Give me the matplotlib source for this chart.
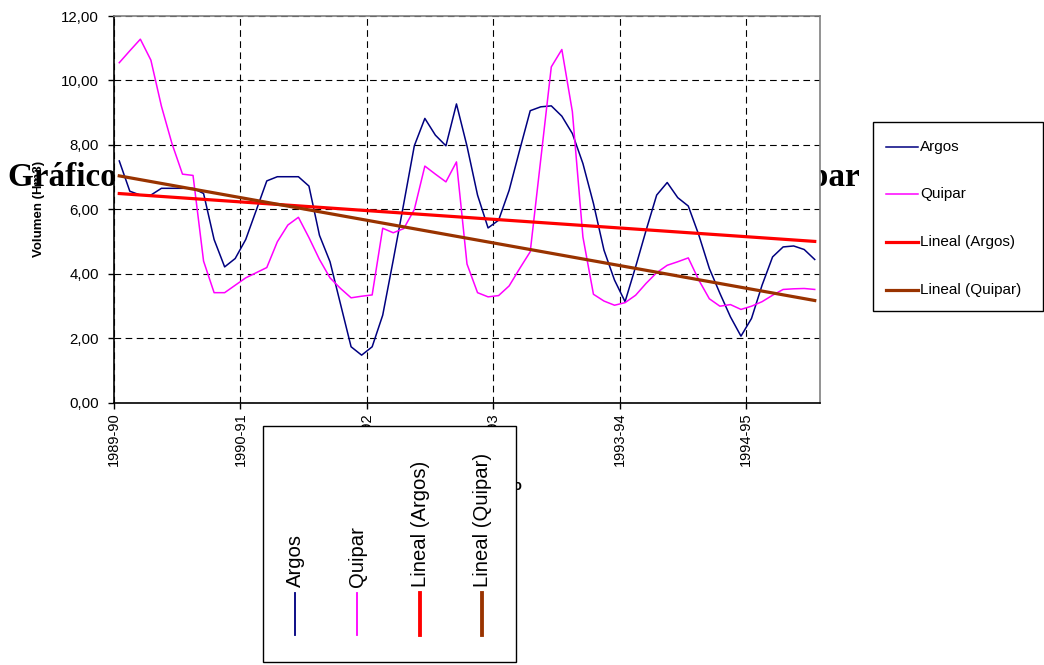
import numpy as np
import matplotlib
matplotlib.use("Agg")
import matplotlib.pyplot as plt
from matplotlib.lines import Line2D
from matplotlib.patches import Rectangle

# ---------------- data ----------------
year_labels = ["1989-90", "1990-91", "1991-92", "1992-93", "1993-94", "1994-95"]
argos = [7.50, 6.56, 6.44, 6.44, 6.65, 6.65, 6.65, 6.65, 6.49, 5.06, 4.21, 4.47,
         5.06, 5.97, 6.88, 7.01, 7.01, 7.01, 6.72, 5.19, 4.37, 3.05, 1.73, 1.47,
         1.73, 2.71, 4.42, 6.18, 7.97, 8.82, 8.30, 7.97, 9.27, 7.96, 6.44, 5.42,
         5.66, 6.59, 7.84, 9.06, 9.18, 9.21, 8.89, 8.35, 7.42, 6.18, 4.73, 3.80,
         3.13, 4.21, 5.35, 6.44, 6.83, 6.36, 6.10, 5.20, 4.16, 3.39, 2.66, 2.06,
         2.61, 3.64, 4.52, 4.83, 4.86, 4.75, 4.44]
quipar = [10.55, 10.92, 11.28, 10.63, 9.20, 8.04, 7.09, 7.05, 4.39, 3.41, 3.41, 3.64,
          3.87, 4.03, 4.19, 4.99, 5.51, 5.75, 5.12, 4.44, 3.87, 3.54, 3.25, 3.30,
          3.34, 5.41, 5.27, 5.40, 5.99, 7.34, 7.09, 6.85, 7.47, 4.30, 3.41, 3.28,
          3.32, 3.62, 4.16, 4.68, 7.55, 10.42, 10.96, 9.03, 5.14, 3.36, 3.15, 3.02,
          3.10, 3.33, 3.70, 4.03, 4.26, 4.37, 4.49, 3.80, 3.22, 2.99, 3.04, 2.89,
          2.99, 3.13, 3.33, 3.51, 3.53, 3.54, 3.51]
series_names = ["Argos", "Quipar", "Lineal (Argos)", "Lineal (Quipar)"]
title_text = "Gráfico Nº 1: Evolución de los volúmenes de Argos y Quipar"
ylabel_text = "Volumen (Hm3)"
xlabel_text = "Año"

C_ARGOS = "#000080"
C_QUIPAR = "#FF00FF"
C_LARGOS = "#FF0000"
C_LQUIPAR = "#993300"

W, H = 1044, 665
fig = plt.figure(figsize=(W / 100, H / 100), dpi=100)
fig.patch.set_facecolor("white")

def fx(px):
    return px / W

def fy(py):
    return 1 - py / H

# title (sits behind the plot area)
t = fig.text(fx(8), fy(186), title_text, ha="left", va="baseline",
             fontsize=25, fontweight="bold", family="Liberation Serif", zorder=-5)
fig.canvas.draw()
bb = t.get_window_extent(fig.canvas.get_renderer())
t.set_fontsize(25 * (852 / bb.width))

ax = fig.add_axes([fx(114), fy(402.5), fx(820) - fx(114), fy(16) - fy(402.5)])
ax.set_facecolor("white")

x = np.arange(len(argos))
ax.plot(x, argos, color=C_ARGOS, lw=1.1, zorder=3)
ax.plot(x, quipar, color=C_QUIPAR, lw=1.1, zorder=3)
pa = np.polyfit(x, argos, 1)
pq = np.polyfit(x, quipar, 1)
ax.plot(x, np.polyval(pa, x), color=C_LARGOS, lw=2.3, zorder=4)
ax.plot(x, np.polyval(pq, x), color=C_LQUIPAR, lw=2.3, zorder=4)

ax.set_xlim(-0.5, len(argos) - 0.5)
ax.set_ylim(0, 12)
ax.set_yticks(np.arange(0, 12.01, 2))
ax.set_yticklabels([f"{v:.2f}".replace(".", ",") for v in np.arange(0, 12.01, 2)],
                   family="Liberation Sans", fontsize=10.8)
xt = [-0.5 + 12 * k for k in range(len(year_labels))]
ax.set_xticks(xt)
ax.set_xticklabels(year_labels, rotation=90, family="Liberation Sans", fontsize=10.5)
ax.tick_params(axis="both", direction="out", length=4, width=1, color="black", pad=3)
ax.tick_params(axis="y", pad=7)
ax.grid(True, color="black", linestyle=(0, (6, 4)), lw=0.8)
ax.set_axisbelow(True)
for s in ["left", "bottom"]:
    ax.spines[s].set_color("black")
    ax.spines[s].set_linewidth(1.2)
for s in ["top", "right"]:
    ax.spines[s].set_color("#808080")
    ax.spines[s].set_linewidth(1.2)

ax.set_ylabel(ylabel_text, family="Liberation Sans", fontweight="bold", fontsize=9.5)
ax.yaxis.set_label_coords(-(114 - 45) / 706, 0.5)

fig.text(fx(523), fy(486), xlabel_text, ha="right", va="center",
         family="Liberation Sans", fontweight="bold", fontsize=10, zorder=1)

# right legend
handles = [Line2D([], [], color=C_ARGOS, lw=1.1),
           Line2D([], [], color=C_QUIPAR, lw=1.1),
           Line2D([], [], color=C_LARGOS, lw=2.3),
           Line2D([], [], color=C_LQUIPAR, lw=2.3)]
fig.patches.append(Rectangle((fx(873), fy(311)), fx(1043) - fx(873), fy(122) - fy(311),
                             transform=fig.transFigure, facecolor="white",
                             edgecolor="black", lw=1.0, zorder=5))
for i, (name, h) in enumerate(zip(series_names, handles)):
    yy = [147, 194, 242, 290][i]
    fig.lines.append(Line2D([fx(886), fx(918)], [fy(yy), fy(yy)], transform=fig.transFigure,
                            color=h.get_color(), lw=h.get_linewidth(), zorder=6))
    fig.text(fx(920), fy(yy), name, ha="left", va="center", family="Liberation Sans",
             fontsize=11, zorder=6)

# bottom rotated legend
fig.patches.append(Rectangle((fx(263), fy(662)), fx(516) - fx(263), fy(426) - fy(662),
                             transform=fig.transFigure, facecolor="white",
                             edgecolor="black", lw=1.0, zorder=5))
for i, (name, h) in enumerate(zip(series_names, handles)):
    xx = [295, 357, 420, 482][i]
    fig.lines.append(Line2D([fx(xx), fx(xx)], [fy(635), fy(593)], transform=fig.transFigure,
                            color=h.get_color(), lw=h.get_linewidth() * 1.2, zorder=6))
    fig.text(fx(xx), fy(587), name, ha="center", va="bottom", rotation=90,
             family="Liberation Sans", fontsize=14.6, zorder=6)

fig.savefig("out.png", dpi=100, facecolor="white")
